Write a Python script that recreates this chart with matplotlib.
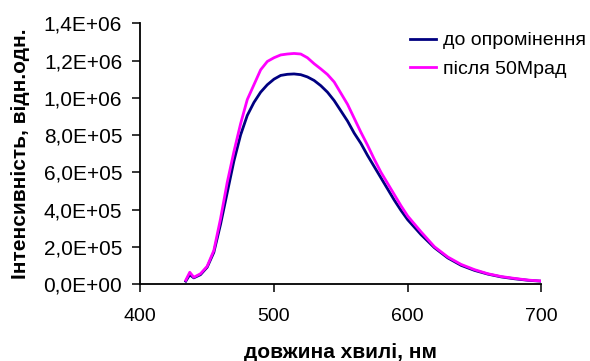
import matplotlib
matplotlib.use("Agg")
import matplotlib.pyplot as plt
import numpy as np
from matplotlib.ticker import FuncFormatter

plt.rcParams['font.family'] = ['Liberation Sans', 'DejaVu Sans']

# wavelength, nm
wavelength = [434, 437, 440, 445, 450, 455, 460, 465, 470, 475, 480, 485, 490, 495,
              500, 505, 510, 515, 520, 525, 530, 535, 540, 545, 550, 555, 560, 565,
              570, 575, 580, 585, 590, 595, 600, 610, 620, 630, 640, 650, 660, 670,
              680, 690, 700]

# intensity, millions of arb. units
before = [0.015, 0.05, 0.033, 0.05, 0.09, 0.17, 0.32, 0.49, 0.66, 0.80, 0.905, 0.975,
          1.03, 1.07, 1.10, 1.12, 1.126, 1.128, 1.124, 1.112, 1.093, 1.065, 1.03,
          0.985, 0.93, 0.875, 0.81, 0.755, 0.69, 0.63, 0.57, 0.51, 0.45, 0.395,
          0.345, 0.265, 0.195, 0.14, 0.10, 0.073, 0.053, 0.038, 0.028, 0.02, 0.015]
after = [0.02, 0.063, 0.036, 0.055, 0.095, 0.18, 0.35, 0.545, 0.71, 0.86, 0.99, 1.07,
         1.15, 1.195, 1.215, 1.23, 1.235, 1.238, 1.235, 1.215, 1.183, 1.155, 1.125,
         1.085, 1.025, 0.965, 0.89, 0.815, 0.745, 0.67, 0.60, 0.54, 0.48, 0.42,
         0.365, 0.28, 0.20, 0.145, 0.105, 0.077, 0.055, 0.04, 0.03, 0.021, 0.016]

labels = ["до опромінення", "після 50Мрад"]
colors = ["#000080", "#FF00FF"]

fig = plt.figure(figsize=(5.9, 3.61), dpi=100)
ax = fig.add_axes([0.2378, 0.2133, 0.6798, 0.7222])

x = np.array(wavelength)
ax.plot(x, np.array(before) * 1e6, color=colors[0], lw=2, label=labels[0], zorder=2)
ax.plot(x, np.array(after) * 1e6, color=colors[1], lw=2, label=labels[1], zorder=3)

ax.set_xlim(400, 700)
ax.set_ylim(0, 1.4e6)
ax.set_xticks([400, 500, 600, 700])
ax.set_yticks(np.arange(0, 1.41e6, 2e5))
ax.yaxis.set_major_formatter(FuncFormatter(lambda v, p: f"{v:.1E}".replace('.', ',')))

for s in ['top', 'right']:
    ax.spines[s].set_visible(False)
for s in ['left', 'bottom']:
    ax.spines[s].set_linewidth(1.3)

ax.tick_params(axis='both', direction='out', length=5.5, width=1.1, colors='black')
ax.tick_params(axis='x', pad=12, labelsize=14)
ax.tick_params(axis='y', pad=7.5, labelsize=15)

ax.set_xlabel("довжина хвилі, нм", fontsize=15, fontweight='bold', labelpad=13)
ax.set_ylabel("Інтенсивність, відн.одн.", fontsize=15, fontweight='bold', labelpad=10)

fig.legend(loc='upper left', bbox_to_anchor=(0.695, 0.912), frameon=False,
           fontsize=14, handlelength=1.35, handletextpad=0.36, labelspacing=0.55,
           borderpad=0, borderaxespad=0)

fig.savefig("out.png", dpi=100)
